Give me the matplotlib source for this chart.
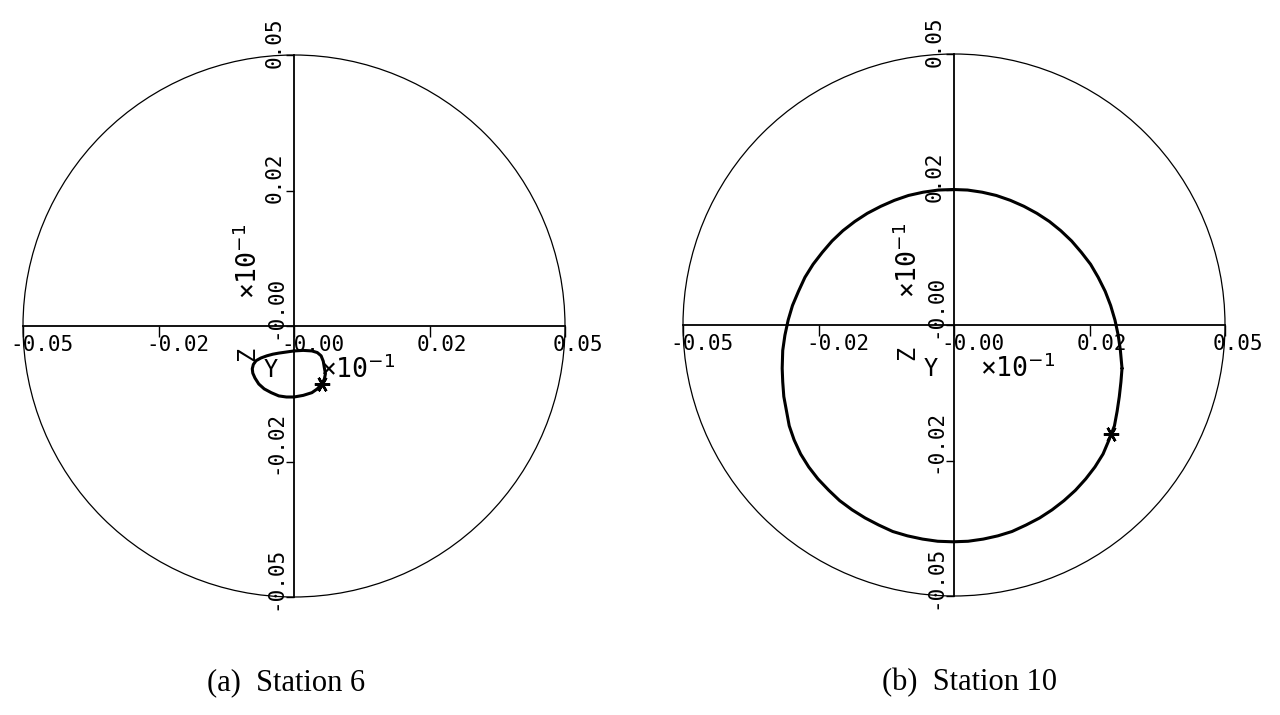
import matplotlib
matplotlib.use("Agg")
import matplotlib.pyplot as plt
from matplotlib.patches import Circle

# ---------------- data ----------------
tick_values = [-0.05, -0.025, 0.0, 0.025, 0.05]
tick_labels = ['-0.05', '-0.02', '-0.00', '0.02', '0.05']

# Station 6 orbit (Y, Z), units of 10^-1
orbit_a_y = [0.0000, 0.0017, 0.0033, 0.0043, 0.0050, 0.0054, 0.0056, 0.0058, 0.0056,
             0.0051, 0.0043, 0.0033, 0.0017, 0.0000, -0.0014, -0.0028, -0.0042,
             -0.0055, -0.0065, -0.0072, -0.0076, -0.0077, -0.0075, -0.0070, -0.0061,
             -0.0050, -0.0039, -0.0028, -0.0014, 0.0000]
orbit_a_z = [-0.0046, -0.0045, -0.0046, -0.0049, -0.0055, -0.0065, -0.0077, -0.0088,
             -0.0098, -0.0107, -0.0116, -0.0123, -0.0128, -0.0131, -0.0131, -0.0129,
             -0.0123, -0.0116, -0.0107, -0.0096, -0.0087, -0.0079, -0.0071, -0.0064,
             -0.0059, -0.0055, -0.0052, -0.0050, -0.0048, -0.0046]
marker_a = (0.0051, -0.0107)

# Station 10 orbit (Y, Z)
orbit_b_y = [0.0310, 0.0307, 0.0303, 0.0297, 0.0289, 0.0279, 0.0266, 0.0252, 0.0235,
             0.0217, 0.0197, 0.0176, 0.0153, 0.0129, 0.0104, 0.0078, 0.0052, 0.0025,
             -0.0002, -0.0029, -0.0057, -0.0084, -0.0110, -0.0135, -0.0160, -0.0183,
             -0.0205, -0.0225, -0.0243, -0.0260, -0.0275, -0.0287, -0.0298, -0.0306,
             -0.0312, -0.0316, -0.0317, -0.0316, -0.0314, -0.0309, -0.0304, -0.0295,
             -0.0283, -0.0268, -0.0251, -0.0231, -0.0211, -0.0188, -0.0164, -0.0139,
             -0.0113, -0.0086, -0.0058, -0.0030, -0.0002, 0.0026, 0.0054, 0.0081,
             0.0107, 0.0133, 0.0158, 0.0181, 0.0203, 0.0224, 0.0243, 0.0260, 0.0275,
             0.0286, 0.0296, 0.0301, 0.0305, 0.0308, 0.0310]
orbit_b_z = [-0.0080, -0.0047, -0.0019, 0.0009, 0.0036, 0.0062, 0.0088, 0.0112, 0.0134,
             0.0155, 0.0174, 0.0191, 0.0206, 0.0219, 0.0230, 0.0239, 0.0245, 0.0249,
             0.0250, 0.0249, 0.0245, 0.0239, 0.0230, 0.0219, 0.0206, 0.0191,
             0.0174, 0.0155, 0.0134, 0.0112, 0.0088, 0.0062, 0.0036, 0.0009,
             -0.0019, -0.0047, -0.0080, -0.0105, -0.0132, -0.0159, -0.0186, -0.0212,
             -0.0238, -0.0262, -0.0284, -0.0305, -0.0324, -0.0341, -0.0356, -0.0369,
             -0.0381, -0.0389, -0.0395, -0.0399, -0.0400, -0.0399, -0.0395, -0.0389,
             -0.0381, -0.0369, -0.0356, -0.0341, -0.0324, -0.0305, -0.0284, -0.0262,
             -0.0238, -0.0212, -0.0186, -0.0159, -0.0132, -0.0105, -0.0080]
marker_b = (0.0290, -0.0202)

captions = ['(a)  Station 6', '(b)  Station 10']

# ---------------- drawing ----------------
W, H = 1280, 715
fig = plt.figure(figsize=(W / 100, H / 100), dpi=100)
fig.patch.set_facecolor('white')

PX = 72 / 100.0  # points per pixel
MONO = 'DejaVu Sans Mono'


def panel(cx, cy, R, ys, zs, mk, caption, cap_x):
    ax = fig.add_axes([(cx - R) / W, (H - cy - R) / H, 2 * R / W, 2 * R / H])
    ax.set_xlim(-0.05, 0.05)
    ax.set_ylim(-0.05, 0.05)
    ax.set_facecolor('none')
    for s in ('top', 'right'):
        ax.spines[s].set_visible(False)
    for s in ('left', 'bottom'):
        ax.spines[s].set_position(('data', 0))
        ax.spines[s].set_linewidth(1.3)
    ax.set_xticks(tick_values)
    ax.set_yticks(tick_values)
    ax.set_xticklabels([])
    ax.set_yticklabels([])
    ax.tick_params(axis='x', direction='out', length=8, width=1.0)
    ax.tick_params(axis='y', direction='out', length=6, width=1.0)

    ax.add_patch(Circle((0, 0), 0.05, fill=False, lw=0.9, color='black',
                        clip_on=False))
    ax.plot(ys, zs, color='black', lw=2.2, clip_on=False,
            solid_joinstyle='round', solid_capstyle='round')
    ax.plot([mk[0]], [mk[1]], marker=(6, 2, 90), ms=11, mew=1.8, color='black',
            clip_on=False)

    # x tick labels
    for v, lab in zip(tick_values, tick_labels):
        ax.annotate(lab, xy=(v, 0), xytext=(-12.6 * PX, -19 * PX),
                    textcoords='offset points', ha='left', va='center',
                    family=MONO, fontsize=15, annotation_clip=False)
    # y tick labels (rotated)
    for v, lab in zip(tick_values, tick_labels):
        ax.annotate(lab, xy=(0, v), xytext=(-19 * PX, -12.6 * PX),
                    textcoords='offset points', ha='left', va='center',
                    rotation=90, rotation_mode='anchor',
                    family=MONO, fontsize=15, annotation_clip=False)

    # multiplier labels
    ax.annotate('×10$^{-1}$', xy=(0, 0), xytext=(26 * PX, -44 * PX),
                textcoords='offset points', ha='left', va='center',
                family=MONO, fontsize=19, annotation_clip=False)
    ax.annotate('×10$^{-1}$', xy=(0, 0), xytext=(-45 * PX, 27 * PX),
                textcoords='offset points', ha='left', va='center',
                rotation=90, rotation_mode='anchor',
                family=MONO, fontsize=19, annotation_clip=False)
    # axis names
    ax.annotate('Z', xy=(0, 0), xytext=(-47 * PX, -28 * PX),
                textcoords='offset points', ha='center', va='center',
                rotation=90, family=MONO, fontsize=17, annotation_clip=False)
    ax.annotate('Y', xy=(0, 0), xytext=(-23 * PX, -44 * PX),
                textcoords='offset points', ha='center', va='center',
                family=MONO, fontsize=17, annotation_clip=False)

    fig.text(cap_x / W, 1 - 683 / H, caption, ha='left', va='center',
             family='Liberation Serif', fontsize=22)
    return ax


panel(294, 326, 271, orbit_a_y, orbit_a_z, marker_a, captions[0], 207)
panel(954, 325, 271, orbit_b_y, orbit_b_z, marker_b, captions[1], 882)

fig.savefig('out.png', dpi=100, facecolor='white')
